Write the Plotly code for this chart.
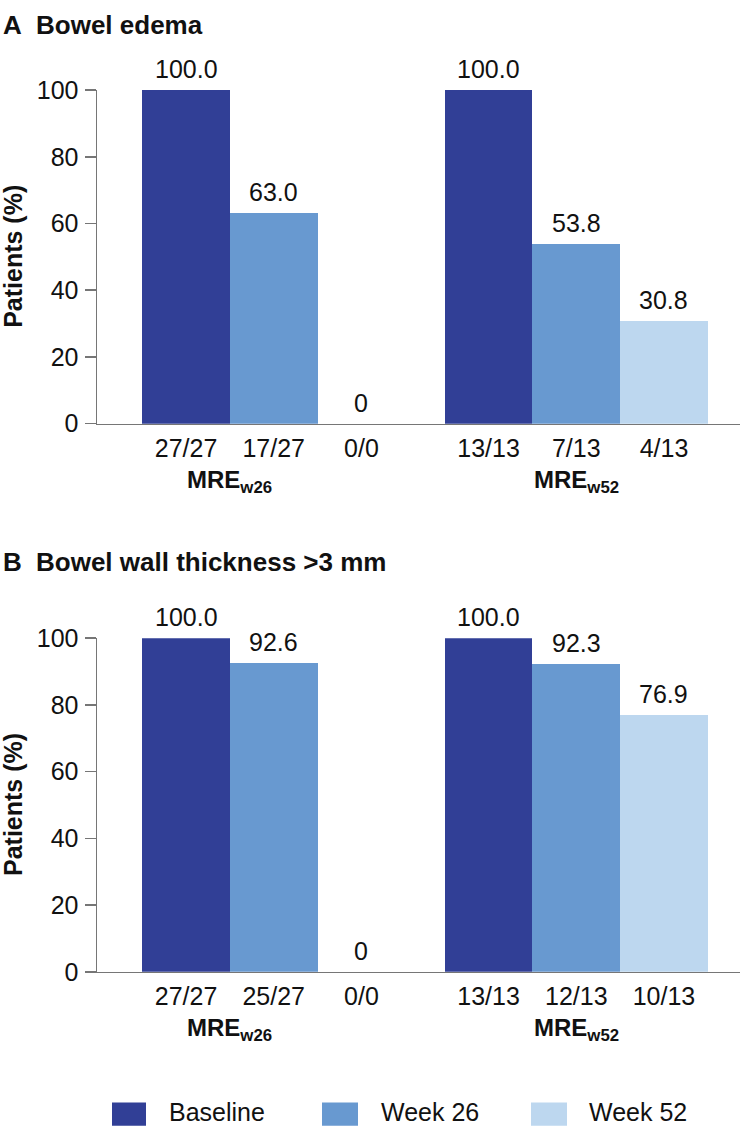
import plotly.graph_objects as go

# ---------------- data ----------------
series_names = ["Baseline", "Week 26", "Week 52"]
series_colors = ["#313F96", "#6899D0", "#BDD7EF"]
timepoints = ["MRE<sub>w26</sub>", "MRE<sub>w52</sub>"]

edema_baseline = [100.0, 100.0]
edema_week26 = [63.0, 53.8]
edema_week52 = [0.0, 30.8]
edema_counts = ["27/27", "17/27", "0/0", "13/13", "7/13", "4/13"]

thick_baseline = [100.0, 100.0]
thick_week26 = [92.6, 92.3]
thick_week52 = [0.0, 76.9]
thick_counts = ["27/27", "25/27", "0/0", "13/13", "12/13", "10/13"]

panel_letters = ["A", "B"]
panel_titles = ["Bowel edema", "Bowel wall thickness >3 mm"]
y_title = "Patients (%)"
y_ticks = [0, 20, 40, 60, 80, 100]

# ---------------- layout helpers ----------------
W, H = 744, 1134
FONT = "Liberation Sans, Arial, Helvetica, sans-serif"
TXT = "#111111"
AX = "#767676"
FS = 25      # regular text
FSB = 26     # bold panel titles
FSY = 25     # bold y title
FSG = 24     # group labels

def fx(px):
    return px / W

def fy(px):
    return 1 - px / H

group_start = [0.0, 3.45]
panels = [
    dict(series=[edema_baseline, edema_week26, edema_week52], counts=edema_counts,
         top=78, bottom=420),
    dict(series=[thick_baseline, thick_week26, thick_week52], counts=thick_counts,
         top=640, bottom=982),
]

fig = go.Figure()
annotations = []
shapes = []

for p, panel in enumerate(panels):
    xa = "x" if p == 0 else "x2"
    ya = "y" if p == 0 else "y2"
    for s, vals in enumerate(panel["series"]):
        xs = [group_start[g] + s for g in range(len(vals))]
        fig.add_trace(go.Bar(
            x=xs, y=vals, width=1.0, name=series_names[s],
            marker=dict(color=series_colors[s], line=dict(width=0)),
            xaxis=xa, yaxis=ya, showlegend=False,
        ))
        for x, v in zip(xs, vals):
            annotations.append(dict(
                x=x, y=v, xref=xa, yref=ya, text=("0" if v == 0 else f"{v:.1f}"),
                showarrow=False, yshift=21, yanchor="middle", xanchor="center",
                font=dict(family=FONT, size=FS, color=TXT)))
    tickvals = sorted(group_start[g] + s for g in range(len(group_start)) for s in range(3))
    # group labels centred under the bars with non-empty denominators
    for g, name in enumerate(timepoints):
        idx = [s for s in range(3) if not panel["counts"][g * 3 + s].endswith("/0")]
        cx = group_start[g] + (idx[0] + idx[-1]) / 2
        annotations.append(dict(
            x=cx, y=0, xref=xa, yref=ya, text=f"<b>{name}</b>", showarrow=False,
            yshift=-58, yanchor="middle", xanchor="center",
            font=dict(family=FONT, size=FSG, color=TXT)))
    # panel titles
    ty = 11 if p == 0 else 562
    annotations.append(dict(x=fx(1), y=fy(ty), xref="paper", yref="paper",
                            text=f"<b>{panel_letters[p]}</b>", showarrow=False,
                            xanchor="left", yanchor="middle",
                            font=dict(family=FONT, size=FSB, color=TXT)))
    annotations.append(dict(x=fx(34), y=fy(ty), xref="paper", yref="paper",
                            text=f"<b>{panel_titles[p]}</b>", showarrow=False,
                            xanchor="left", yanchor="middle",
                            font=dict(family=FONT, size=FSB, color=TXT)))
    # y title
    annotations.append(dict(x=fx(13), y=fy((panel["top"] + panel["bottom"]) / 2),
                            xref="paper", yref="paper", text=f"<b>{y_title}</b>",
                            textangle=-90, showarrow=False, xanchor="center",
                            yanchor="middle",
                            font=dict(family=FONT, size=FSY, color=TXT)))

    xaxis = dict(
        domain=[fx(97), fx(740)], range=[-1.015, 6.317], showline=True,
        linecolor=AX, linewidth=1.5, ticks="", tickvals=tickvals,
        ticktext=panel["counts"], showgrid=False, zeroline=False,
        tickfont=dict(family=FONT, size=FS, color=TXT), ticklabelstandoff=2,
        anchor=ya, fixedrange=True,
    )
    yaxis = dict(
        domain=[fy(panel["bottom"]), fy(panel["top"])], range=[0, 100],
        showline=True, linecolor=AX, linewidth=1.5, ticks="outside", ticklen=11,
        tickwidth=1.5, tickcolor=AX, tickvals=y_ticks, showgrid=False,
        zeroline=False, tickfont=dict(family=FONT, size=FS, color=TXT),
        ticklabelstandoff=1, anchor=xa, fixedrange=True,
    )
    if p == 0:
        fig.update_layout(xaxis=xaxis, yaxis=yaxis)
    else:
        fig.update_layout(xaxis2=xaxis, yaxis2=yaxis)

# custom legend (large swatches)
leg_sq = [(112, 146), (322, 358), (531, 567)]
leg_tx = [167, 379, 587]
for s, name in enumerate(series_names):
    shapes.append(dict(type="rect", xref="paper", yref="paper",
                       x0=fx(leg_sq[s][0]), x1=fx(leg_sq[s][1]),
                       y0=fy(1140), y1=fy(1116), line=dict(width=0),
                       fillcolor=series_colors[s]))
    annotations.append(dict(x=fx(leg_tx[s]), y=fy(1126), xref="paper", yref="paper",
                            text=name, showarrow=False, xanchor="left",
                            yanchor="middle",
                            font=dict(family=FONT, size=FS, color=TXT)))

fig.update_layout(
    width=W, height=H, margin=dict(l=0, r=0, t=0, b=0),
    paper_bgcolor="white", plot_bgcolor="white", barmode="overlay",
    bargap=0, showlegend=False, annotations=annotations, shapes=shapes,
    font=dict(family=FONT, color=TXT),
)

fig.write_html(
    "out.html",
    config={"displayModeBar": False, "staticPlot": True},
    post_script="document.body.style.margin='0';document.body.style.padding='0';",
)
